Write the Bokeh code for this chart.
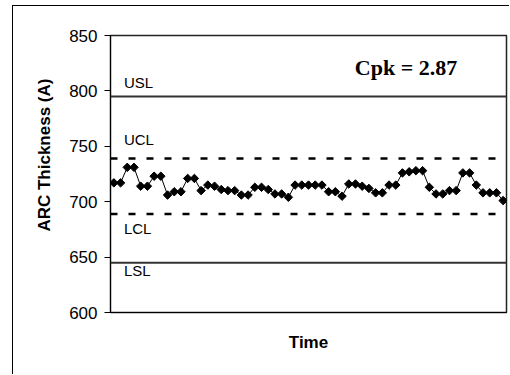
import math
from bokeh.plotting import figure
from bokeh.models import Range1d, FixedTicker, Span, Label
from bokeh.embed import file_html
from bokeh.resources import INLINE

# ---- data ----
values = [717, 717, 731, 731, 714, 714, 723, 723, 706, 709,
          709, 721, 721, 710, 715, 714, 711, 710, 710, 706,
          706, 713, 713, 711, 707, 707, 704, 715, 715, 715,
          715, 715, 709, 709, 705, 716, 716, 714, 712, 708,
          708, 715, 715, 726, 727, 728, 728, 713, 707, 707,
          710, 710, 726, 726, 715, 708, 708, 708, 701]
samples = list(range(1, len(values) + 1))
limit_names = ["USL", "UCL", "LCL", "LSL"]
limit_values = [795, 739, 689, 645]
y_ticks = [600, 650, 700, 750, 800, 850]
cpk_text = "Cpk = 2.87"
y_title = "ARC Thickness (A)"
x_title = "Time"

SANS = "Liberation Sans"
SERIF = "Liberation Serif"

p = figure(width=497, height=369, output_backend="svg", toolbar_location=None,
           x_range=Range1d(0.5, len(values) + 0.5), y_range=Range1d(600, 850),
           min_border_left=97, min_border_right=4, min_border_top=29, min_border_bottom=63,
           styles={"margin-left": "12px", "margin-top": "5px",
                   "border-left": "1px solid #000", "border-top": "1px solid #000"})
p.background_fill_color = "white"
p.border_fill_color = "white"
p.outline_line_color = "#222222"
p.outline_line_width = 1.5
p.xgrid.visible = False
p.ygrid.visible = False

# y axis
p.yaxis.ticker = FixedTicker(ticks=y_ticks)
p.yaxis.minor_tick_line_color = None
p.yaxis.major_tick_in = 0
p.yaxis.major_tick_out = 6
p.yaxis.major_tick_line_color = "black"
p.yaxis.axis_line_color = "black"
p.yaxis.major_label_standoff = 7
p.yaxis.major_label_text_font = SANS
p.yaxis.major_label_text_font_size = "17px"
p.yaxis.major_label_text_color = "black"
p.yaxis.axis_label = "\u00a0" * 8 + y_title
p.yaxis.axis_label_text_font = SANS
p.yaxis.axis_label_text_font_style = "bold"
p.yaxis.axis_label_text_font_size = "17px"
p.yaxis.axis_label_text_color = "black"
p.yaxis.axis_label_standoff = 12

# x axis
p.xaxis.ticker = FixedTicker(ticks=[])
p.xaxis.minor_tick_line_color = None
p.xaxis.major_tick_line_color = None
p.xaxis.axis_line_color = "black"
p.xaxis.axis_label = x_title
p.xaxis.axis_label_text_font = SANS
p.xaxis.axis_label_text_font_style = "bold"
p.xaxis.axis_label_text_font_size = "17px"
p.xaxis.axis_label_text_color = "black"
p.xaxis.axis_label_standoff = 20

# limit lines
styles = {"USL": ("solid", "#333333", 2), "LSL": ("solid", "#333333", 2),
          "UCL": ("7 11", "black", 2.5), "LCL": ("7 11", "black", 2.5)}
offsets = {"USL": 14, "UCL": 19, "LCL": -15, "LSL": -8}
for name, val in zip(limit_names, limit_values):
    dash, col, w = styles[name]
    p.add_layout(Span(location=val, dimension="width", line_color=col,
                      line_width=w, line_dash=dash))
    p.add_layout(Label(x=2.5, y=val, y_offset=offsets[name], text=name,
                       text_font=SANS, text_font_size="15px", text_color="black",
                       text_baseline="alphabetic", text_align="left"))

# data series
p.line(samples, values, line_color="black", line_width=1)
p.scatter(samples, values, marker="square", angle=math.pi / 4, size=6,
          fill_color="black", line_color="black", line_width=1)

# Cpk annotation
p.add_layout(Label(x=36.9, y=813.9, y_offset=8, text=cpk_text, text_font=SERIF,
                   text_font_style="bold", text_font_size="22px", text_color="black",
                   text_baseline="alphabetic", text_align="left"))

open("out.html", "w").write(file_html(p, INLINE))
